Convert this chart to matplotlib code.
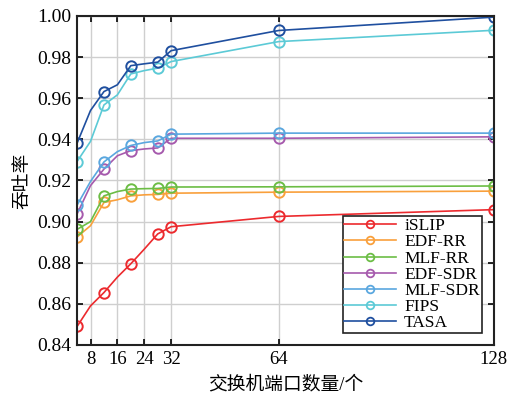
import numpy as np
import matplotlib
matplotlib.use("Agg")
import matplotlib.pyplot as plt

plt.rcParams['font.family'] = ['Liberation Serif', 'Noto Sans CJK SC']
plt.rcParams['axes.unicode_minus'] = False

# switch port counts (points between markers are interpolated by the sim)
ports = [4, 8, 12, 16, 20, 24, 28, 32, 64, 128]
marked = [0, 2, 4, 6, 7, 8, 9]

islip   = [0.849, 0.859, 0.8655, 0.873, 0.8795, 0.8866, 0.894, 0.8975, 0.9025, 0.9058]
edf_rr  = [0.8925, 0.898, 0.9093, 0.9106, 0.9125, 0.913, 0.9132, 0.9138, 0.9143, 0.9148]
mlf_rr  = [0.8962, 0.900, 0.9125, 0.9146, 0.9158, 0.916, 0.9161, 0.9168, 0.9169, 0.9173]
edf_sdr = [0.9037, 0.9175, 0.9255, 0.932, 0.9345, 0.9353, 0.9358, 0.9405, 0.9405, 0.9412]
mlf_sdr = [0.908, 0.9195, 0.929, 0.934, 0.937, 0.9384, 0.9392, 0.9425, 0.943, 0.943]
fips    = [0.9292, 0.939, 0.9567, 0.9616, 0.9718, 0.9734, 0.9746, 0.9778, 0.9875, 0.993]
tasa    = [0.9381, 0.954, 0.9632, 0.9665, 0.9758, 0.9767, 0.9775, 0.9831, 0.9929, 0.9994]

names = ['iSLIP', 'EDF-RR', 'MLF-RR', 'EDF-SDR', 'MLF-SDR', 'FIPS', 'TASA']
series = [islip, edf_rr, mlf_rr, edf_sdr, mlf_sdr, fips, tasa]
colors = ['#ec2a2e', '#f9a03c', '#6cbd45', '#a65aad', '#5aa7df', '#5ccad6', '#1f4f9f']

xticks = [8, 16, 24, 32, 64, 128]
yticks = np.arange(0.84, 1.001, 0.02)

fig = plt.figure(figsize=(5.07, 3.97), dpi=100)
ax = fig.add_axes([0.152, 0.131, 0.822, 0.829])

for name, ys, c in zip(names, series, colors):
    ax.plot(ports, ys, color=c, lw=1.2, marker='o', markersize=7.5,
            markerfacecolor='none', markeredgewidth=1.4, markevery=marked,
            label=name)

ax.set_xlim(4, 128)
ax.set_ylim(0.84, 1.00)
ax.set_xticks(xticks)
ax.set_yticks(yticks)
ax.set_yticklabels(['%.2f' % v for v in yticks])
ax.grid(True, color='#cfcfcf', lw=1.0)
ax.set_axisbelow(True)
ax.tick_params(direction='in', top=True, right=True, length=4, width=1.2,
               labelsize=14, pad=4)
ax.tick_params(axis='x', labelsize=13.5)
for s in ax.spines.values():
    s.set_linewidth(1.5)
    s.set_color('#222222')

ax.set_xlabel('交换机端口数量/个', fontsize=13.5, labelpad=6)
ax.set_ylabel('吞吐率', fontsize=13.5, labelpad=4)

leg = ax.legend(loc='lower right', bbox_to_anchor=(0.9705, 0.0365),
                fontsize=12.5, frameon=True, fancybox=False,
                edgecolor='#222222', framealpha=1, labelspacing=0.0,
                handlelength=3.0, handletextpad=0.45, borderpad=0.1,
                borderaxespad=0)
leg.get_frame().set_linewidth(1.2)
for h in leg.legend_handles:
    h.set_markersize(5.5)
    h.set_markeredgewidth(1.3)

fig.savefig('out.png', dpi=100)
